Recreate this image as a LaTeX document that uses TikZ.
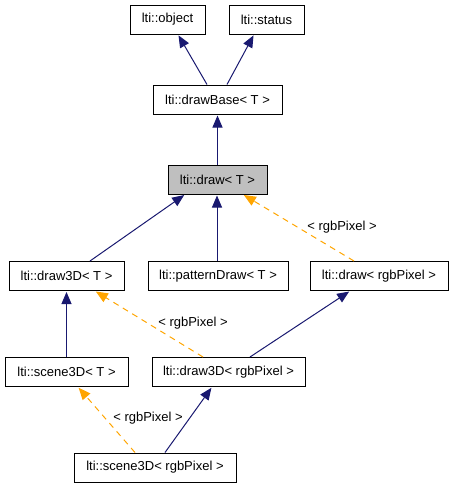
\documentclass[tikz,border=0pt]{standalone}
\usepackage{fontspec}
\setmainfont{Liberation Sans}
\usetikzlibrary{arrows.meta}
\definecolor{edgeblue}{HTML}{191970}
\definecolor{edgeorange}{HTML}{FFA500}
\definecolor{curfill}{HTML}{BFBFBF}
\tikzset{
  cls/.style={draw=black, line width=1pt, minimum height=29pt, inner sep=0pt, font=\fontsize{13}{15}\selectfont, fill=white},
  inh/.style={draw=edgeblue, line width=1pt, -{Triangle[length=12pt,width=10pt]}, shorten >=1pt},
  tmpl/.style={draw=edgeorange, line width=1pt, dash pattern=on 6pt off 5pt, -{Triangle[length=12pt,width=10pt]}, shorten >=1pt},
  lbl/.style={font=\fontsize{13}{15}\selectfont, inner sep=1pt}
}
\begin{document}
\begin{tikzpicture}[x=1pt,y=-1pt]
\useasboundingbox (0,0) rectangle (452,488);
\node[cls, minimum width=75pt] (object) at (167.5,19.5) {lti::object};
\node[cls, minimum width=75pt] (status) at (266.5,19.5) {lti::status};
\node[cls, minimum width=129pt] (drawBase) at (217.5,99.5) {lti::drawBase< T >};
\node[cls, minimum width=99pt, fill=curfill] (draw) at (217.5,179.5) {lti::draw< T >};
\node[cls, minimum width=115pt] (draw3D) at (66.5,276) {lti::draw3D< T >};
\node[cls, minimum width=140pt] (pattern) at (218,276) {lti::patternDraw< T >};
\node[cls, minimum width=138pt] (drawRgb) at (379,276) {lti::draw< rgbPixel >};
\node[cls, minimum width=123pt] (scene3D) at (66.5,372) {lti::scene3D< T >};
\node[cls, minimum width=153pt] (draw3DRgb) at (228.5,372) {lti::draw3D< rgbPixel >};
\node[cls, minimum width=162pt] (scene3DRgb) at (155,467.5) {lti::scene3D< rgbPixel >};

\draw[inh] ([xshift=-10.5pt]drawBase.north) -- ([xshift=10.5pt]object.south);
\draw[inh] ([xshift=9.5pt]drawBase.north) -- ([xshift=-12.5pt]status.south);
\draw[inh] (draw.north) -- (drawBase.south);
\draw[inh] ([xshift=23.5pt]draw3D.north) -- ([xshift=-32.5pt]draw.south);
\draw[inh] ([xshift=-1pt]pattern.north) -- ([xshift=-0.5pt]draw.south);
\draw[tmpl] ([xshift=-25pt]drawRgb.north) -- ([xshift=25.5pt]draw.south);
\node[lbl] (l1) at (342,227) {< rgbPixel >};
\draw[inh] (scene3D.north) -- (draw3D.south);
\draw[tmpl] ([xshift=-25.5pt]draw3DRgb.north) -- ([xshift=28.5pt]draw3D.south);
\node[lbl] (l2) at (193,323) {< rgbPixel >};
\draw[inh] ([xshift=21.5pt]draw3DRgb.north) -- ([xshift=-29pt]drawRgb.south);
\draw[tmpl] ([xshift=-20pt]scene3DRgb.north) -- ([xshift=11.5pt]scene3D.south);
\node[lbl] (l3) at (148,418) {< rgbPixel >};
\draw[inh] ([xshift=10pt]scene3DRgb.north) -- ([xshift=-16.5pt]draw3DRgb.south);
\end{tikzpicture}
\end{document}
